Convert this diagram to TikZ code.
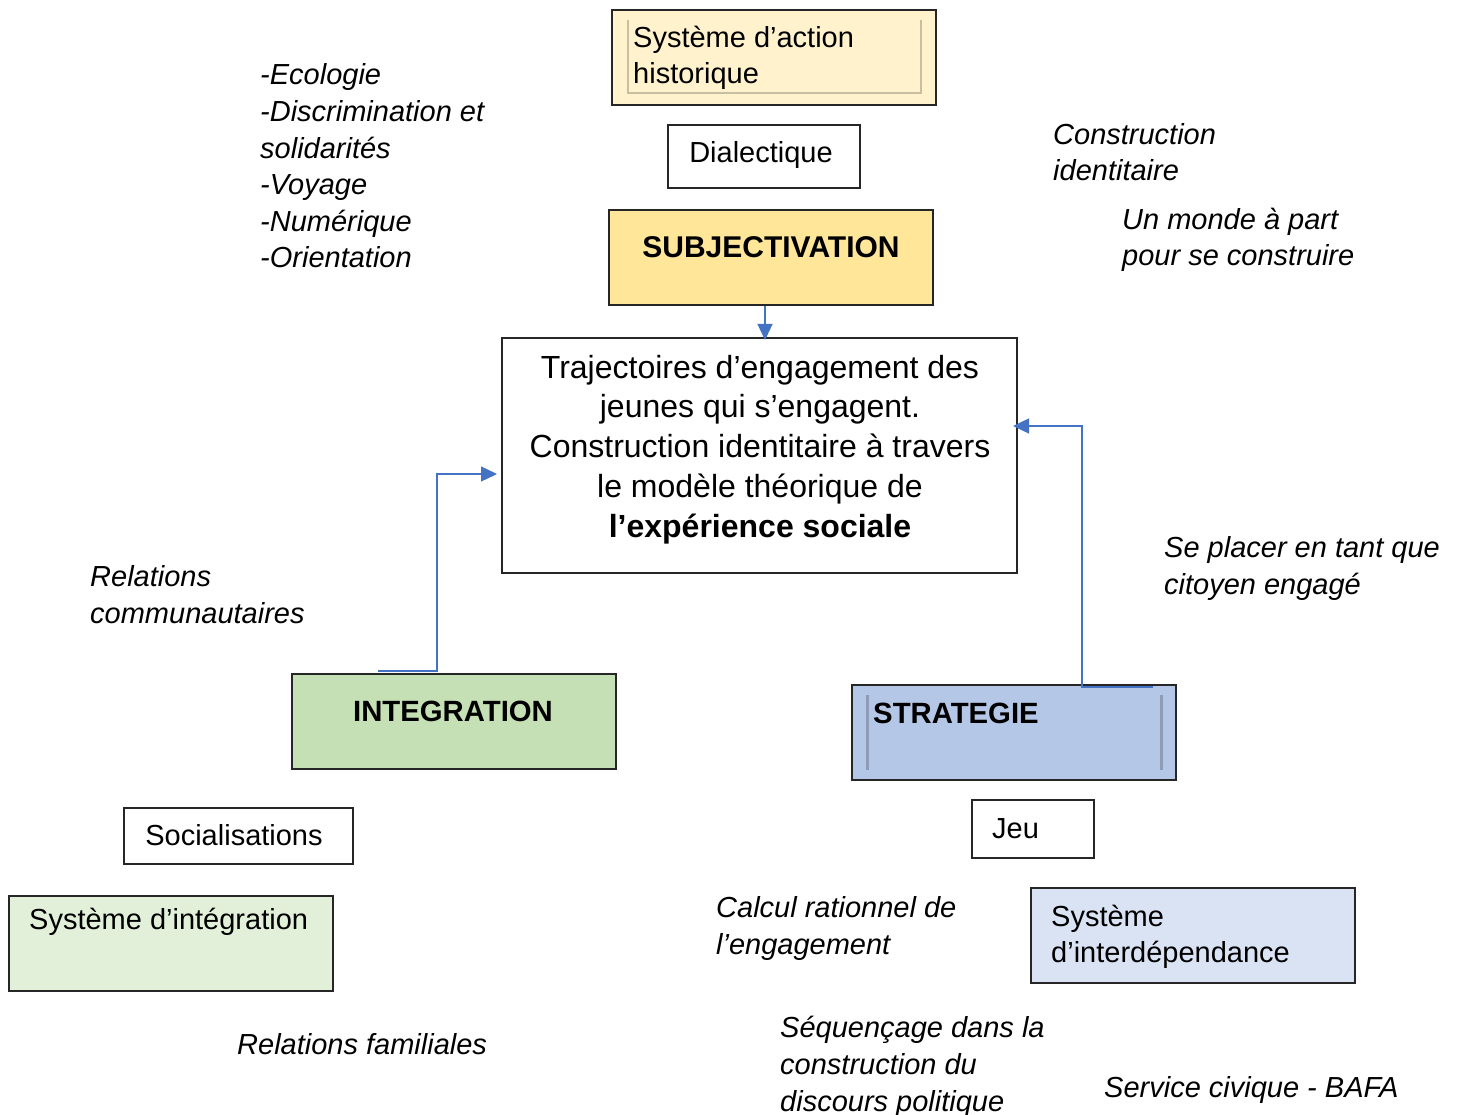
\documentclass[tikz,border=0pt]{standalone}
\usepackage{fontspec}
\setmainfont{Liberation Sans}
\usetikzlibrary{arrows.meta}
\definecolor{boxline}{HTML}{262626}
\definecolor{connblue}{HTML}{4472C4}
\definecolor{sahfill}{HTML}{FFF2CC}
\definecolor{subjfill}{HTML}{FFE699}
\definecolor{integfill}{HTML}{C5E0B4}
\definecolor{stratfill}{HTML}{B4C7E7}
\definecolor{sintfill}{HTML}{E2F0D9}
\definecolor{sinterfill}{HTML}{DAE3F3}
\definecolor{sahline}{HTML}{C8BEA2}
\definecolor{stratline}{HTML}{8E9CB8}
\begin{document}
\begin{tikzpicture}[x=1pt,y=-1pt,
  box/.style={draw=boxline, line width=1.3pt, inner sep=0pt},
  conn/.style={draw=connblue, line width=1.3pt, -{Triangle[length=16pt,width=15pt]}},
  plain/.style={inner sep=0pt, align=left, font=\fontsize{29}{36}\selectfont},
  note/.style={inner sep=0pt, align=left, anchor=base west, font=\fontsize{29}{36.6}\selectfont\itshape},
  title/.style={inner sep=0pt, anchor=base, font=\fontsize{29.3}{35}\selectfont\bfseries}
]
\useasboundingbox (0,0) rectangle (1459,1115);

% boxes
\node[box, fill=sahfill, minimum width=324pt, minimum height=95pt] (sah) at (774,57.5) {};
\node[box, fill=white, minimum width=192pt, minimum height=63pt] (dia) at (764,156.5) {};
\node[box, fill=subjfill, minimum width=324pt, minimum height=95pt] (subj) at (771,257.5) {};
\node[box, fill=white, minimum width=515pt, minimum height=235pt] (main) at (759.5,455.5) {};
\node[box, fill=integfill, minimum width=324pt, minimum height=95pt] (integ) at (454,721.5) {};
\node[box, fill=stratfill, minimum width=324pt, minimum height=95pt] (strat) at (1014,732.5) {};
\node[box, fill=white, minimum width=229pt, minimum height=56pt] (soc) at (238.5,836) {};
\node[box, fill=sintfill, minimum width=324pt, minimum height=95pt] (sint) at (171,943.5) {};
\node[box, fill=white, minimum width=122pt, minimum height=58pt] (jeu) at (1033,829) {};
\node[box, fill=sinterfill, minimum width=324pt, minimum height=95pt] (sinter) at (1193,935.5) {};

% inner frame lines
\draw[sahline, line width=2pt] (628,20) -- (628,93) -- (921,93) -- (921,20);
\draw[stratline, line width=3pt] (867,695) -- (867,770);
\draw[stratline, line width=3pt] (1161,695) -- (1161,770);

% box texts (multi-line nodes: base anchor = last line)
\node[plain, anchor=base west] (sahtxt) at (633,84) {Système d’action\\historique};
\node[plain, anchor=base] (diatxt) at (761,163) {Dialectique};
\node[inner sep=0pt, anchor=base, font=\fontsize{30}{35}\selectfont\bfseries] (subjtxt) at (771,258) {SUBJECTIVATION};
\node[inner sep=0pt, align=center, anchor=base, font=\fontsize{32}{39.7}\selectfont] (maintxt) at (760,537)
  {Trajectoires d’engagement des\\jeunes qui s’engagent.\\Construction identitaire à travers\\le modèle théorique de\\\textbf{l’expérience sociale}};
\node[title] (integtxt) at (453,721) {INTEGRATION};
\node[title, anchor=base west] (strattxt) at (873,723) {STRATEGIE};
\node[plain, anchor=base] (soctxt) at (234,845) {Socialisations};
\node[plain, anchor=base west] (sinttxt) at (29,929) {Système d’intégration};
\node[plain, anchor=base west] (jeutxt) at (992,838) {Jeu};
\node[plain, anchor=base west] (sintertxt) at (1051,962) {Système\\d’interdépendance};

% free notes
\node[note] (themes) at (260,268) {-Ecologie\\-Discrimination et\\solidarités\\-Voyage\\-Numérique\\-Orientation};
\node[note] (constr) at (1053,181) {Construction\\identitaire};
\node[note] (monde) at (1122,266) {Un monde à part\\pour se construire};
\node[note] (placer) at (1164,594) {Se placer en tant que\\citoyen engagé};
\node[note] (relcom) at (90,623) {Relations\\communautaires};
\node[note] (calcul) at (716,954) {Calcul rationnel de\\l’engagement};
\node[note] (relfam) at (237,1054) {Relations familiales};
\node[note] (sequen) at (780,1111) {Séquençage dans la\\construction du\\discours politique};
\node[note] (bafa) at (1104,1097) {Service civique - BAFA};

% connectors
\coordinate (i0) at (378,671);
\coordinate (ibend) at (437,671);
\coordinate (itip) at (497,474);
\coordinate (s0) at (1153,687);
\coordinate (sbend) at (1082,687);
\coordinate (stip) at (1013,426);
\coordinate (subjtip) at (765,340);
\draw[conn] (subj.south -| subjtip) -- (subjtip);
\draw[conn] (i0) -- (ibend) |- (itip);
\draw[conn] (s0) -- (sbend) |- (stip);
\end{tikzpicture}
\end{document}
